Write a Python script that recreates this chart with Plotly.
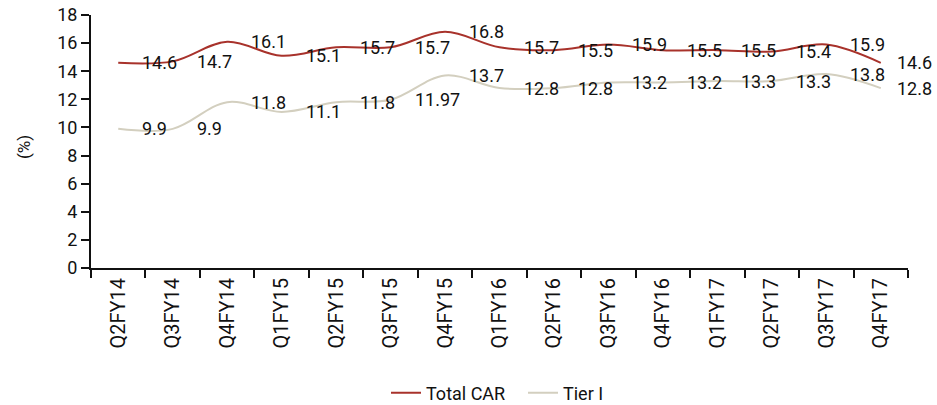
import plotly.graph_objects as go

categories = ["Q2FY14", "Q3FY14", "Q4FY14", "Q1FY15", "Q2FY15", "Q3FY15", "Q4FY15",
              "Q1FY16", "Q2FY16", "Q3FY16", "Q4FY16", "Q1FY17", "Q2FY17", "Q3FY17", "Q4FY17"]
total_car = [14.6, 14.7, 16.1, 15.1, 15.7, 15.7, 16.8, 15.7, 15.5, 15.9, 15.5, 15.5, 15.4, 15.9, 14.6]
tier1 = [9.9, 9.9, 11.8, 11.1, 11.8, 11.97, 13.7, 12.8, 12.8, 13.2, 13.2, 13.3, 13.3, 13.8, 12.8]
tier1_labels = ["9.9", "9.9", "11.8", "11.1", "11.8", "11.97", "13.7", "12.8", "12.8",
                "13.2", "13.2", "13.3", "13.3", "13.8", "12.8"]
y_ticks = [0, 2, 4, 6, 8, 10, 12, 14, 16, 18]

FONT = "Roboto, sans-serif"
RED = "#a8322b"
BEIGE = "#d3cfbf"
TXT = "#111111"

fig = go.Figure()
fig.add_trace(go.Scatter(x=categories, y=total_car, mode="lines", name="Total CAR",
                         line=dict(color=RED, width=2, shape="spline", smoothing=1)))
fig.add_trace(go.Scatter(x=categories, y=tier1, mode="lines", name="Tier I",
                         line=dict(color=BEIGE, width=2, shape="spline", smoothing=1)))

annotations = []
for i, c in enumerate(categories):
    shift = 22 if i < len(categories) - 1 else 14
    annotations.append(dict(x=c, y=total_car[i], xref="x", yref="y", text=f"{total_car[i]:.1f}",
                            showarrow=False, xanchor="left", yanchor="middle", xshift=shift,
                            font=dict(family=FONT, size=18, color=TXT)))
    annotations.append(dict(x=c, y=tier1[i], xref="x", yref="y", text=tier1_labels[i],
                            showarrow=False, xanchor="left", yanchor="middle", xshift=shift,
                            font=dict(family=FONT, size=18, color=TXT)))

plot_l, plot_r, plot_t, plot_b = 91, 908, 15, 268
annotations.append(dict(x=(24 - plot_l) / (plot_r - plot_l), y=(plot_b - 147) / (plot_b - plot_t),
                        xref="paper", yref="paper", text="(%)", textangle=-90,
                        showarrow=False, xanchor="center", yanchor="middle",
                        font=dict(family=FONT, size=17, color=TXT)))

fig.update_layout(
    width=937, height=405,
    margin=dict(l=plot_l, r=937 - plot_r, t=plot_t, b=405 - plot_b, autoexpand=False),
    plot_bgcolor="white", paper_bgcolor="white",
    font=dict(family=FONT, size=18, color=TXT),
    showlegend=True,
    legend=dict(orientation="h", x=(386 - plot_l) / (plot_r - plot_l), xanchor="left",
                y=-(393 - plot_b) / (plot_b - plot_t), yanchor="middle", entrywidth=92,
                font=dict(family=FONT, size=18, color=TXT)),
    annotations=annotations,
)
fig.update_xaxes(range=[-0.5, len(categories) - 0.5], showline=True, linecolor=TXT, linewidth=2,
                 ticks="outside", tickson="boundaries", ticklen=8, tickwidth=2, tickcolor=TXT,
                 tickangle=-90, showgrid=False, automargin=False,
                 tickfont=dict(family=FONT, size=20, color=TXT))
fig.update_yaxes(range=[0, 18], tickvals=y_ticks, showline=True, linecolor=TXT, linewidth=2,
                 ticks="outside", ticklen=8, tickwidth=2, tickcolor=TXT, showgrid=False,
                 zeroline=False, automargin=False,
                 tickfont=dict(family=FONT, size=18, color=TXT))

fig.write_html("out.html", config={"displayModeBar": False},
               post_script="document.body.style.margin='0';document.body.style.overflow='hidden';")
